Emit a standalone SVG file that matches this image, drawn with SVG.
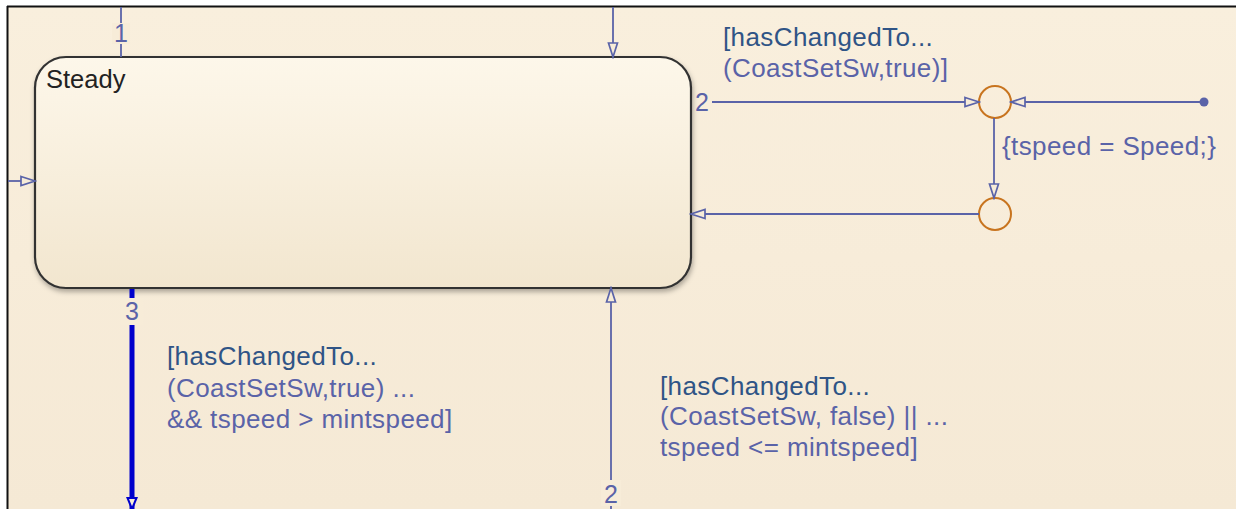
<svg xmlns="http://www.w3.org/2000/svg" width="1236" height="509" viewBox="0 0 1236 509">
<style>
.conn{stroke:#5a63a8;stroke-width:1.8;fill:none}
.lbl{font-family:"Liberation Sans",Arial,sans-serif;font-size:26px;letter-spacing:0.4px;fill:#5a63a8}
.dark{fill:#2f5486}
.num{font-family:"Liberation Sans",Arial,sans-serif;font-size:25px;fill:#5a63a8;text-anchor:middle}
.junction{fill:none;stroke:#c8741e;stroke-width:2}
.halo{fill:#f7ecd8}
</style>
<defs>
<linearGradient id="stateFill" x1="0" y1="0" x2="0" y2="1">
<stop offset="0" stop-color="#fdf7ea"/>
<stop offset="1" stop-color="#f2e6cf"/>
</linearGradient>
<linearGradient id="bgFill" x1="0" y1="0" x2="0" y2="1">
<stop offset="0" stop-color="#f9efdd"/>
<stop offset="1" stop-color="#f5e9d5"/>
</linearGradient>
<filter id="shadow" x="-5%" y="-5%" width="110%" height="115%">
<feDropShadow dx="1" dy="3" stdDeviation="2.5" flood-color="#000" flood-opacity="0.3"/>
</filter>
<marker id="arrow" markerWidth="17" markerHeight="13" refX="15" refY="6" orient="auto" markerUnits="userSpaceOnUse">
<path d="M1,1.5 L15,6 L1,10.5 Z" fill="#f7ecd8" stroke="#5a63a8" stroke-width="1.7"/>
</marker>
<marker id="arrowBlue" markerWidth="14" markerHeight="13" refX="12" refY="6" orient="auto" markerUnits="userSpaceOnUse">
<path d="M1,1.5 L12,6 L1,10.5 Z" fill="#f7ecd8" stroke="#0000cc" stroke-width="2"/>
</marker>
</defs>
<rect x="0" y="0" width="1236" height="509" fill="#ffffff"/>
<rect x="8" y="7" width="1228" height="502" fill="url(#bgFill)"/>
<line x1="7" y1="6.5" x2="1236" y2="6.5" stroke="#111" stroke-width="2"/>
<line x1="7.5" y1="6" x2="7.5" y2="509" stroke="#111" stroke-width="2"/>

<g id="Steady">
<rect x="35" y="57" width="656" height="231" rx="31" ry="31" fill="url(#stateFill)" stroke="#333" stroke-width="2.2" filter="url(#shadow)"/>
<text x="46" y="88" font-family="'Liberation Sans',Arial,sans-serif" font-size="25.5" fill="#222">Steady</text>
</g>

<g id="junction1"><circle cx="995" cy="102" r="16" class="junction"/></g>
<g id="junction2"><circle cx="995" cy="214" r="16" class="junction"/></g>
<g id="default-dot"><circle cx="1204" cy="102" r="4.5" fill="#5a63a8"/></g>

<g id="connectors">
<line x1="121" y1="7" x2="121" y2="57" class="conn"/>
<rect x="112" y="23" width="18" height="21" class="halo"/>
<text x="121" y="42" class="num">1</text>

<line x1="613" y1="7" x2="613" y2="57" class="conn" marker-end="url(#arrow)"/>

<line x1="8" y1="181" x2="35" y2="181" class="conn" marker-end="url(#arrow)"/>

<line x1="712" y1="102" x2="979" y2="102" class="conn" marker-end="url(#arrow)"/>
<text x="702" y="111" class="num">2</text>
<text x="723" y="46" class="lbl dark">[hasChangedTo...</text>
<text x="723" y="77" class="lbl">(CoastSetSw,true)]</text>

<line x1="1204" y1="102" x2="1011" y2="102" class="conn" marker-end="url(#arrow)"/>

<line x1="994" y1="118" x2="994" y2="198" class="conn" marker-end="url(#arrow)"/>
<text x="1002" y="155" class="lbl">{tspeed = Speed;}</text>

<line x1="979" y1="214" x2="691" y2="214" class="conn" marker-end="url(#arrow)"/>

<line x1="132" y1="289" x2="132" y2="509" stroke="#0000cc" stroke-width="5" marker-end="url(#arrowBlue)"/>
<rect x="121" y="298" width="22" height="27" class="halo"/>
<text x="132" y="320" class="num">3</text>
<text x="167" y="365" class="lbl dark">[hasChangedTo...</text>
<text x="167" y="397" class="lbl">(CoastSetSw,true) ...</text>
<text x="167" y="428" class="lbl">&amp;&amp; tspeed &gt; mintspeed]</text>

<line x1="611" y1="509" x2="611" y2="288" class="conn" marker-end="url(#arrow)"/>
<rect x="601" y="480" width="20" height="26" class="halo"/>
<text x="611" y="503" class="num">2</text>
<text x="660" y="395" class="lbl dark">[hasChangedTo...</text>
<text x="660" y="425" class="lbl">(CoastSetSw, false) || ...</text>
<text x="660" y="456" class="lbl">tspeed &lt;= mintspeed]</text>
</g>
</svg>
